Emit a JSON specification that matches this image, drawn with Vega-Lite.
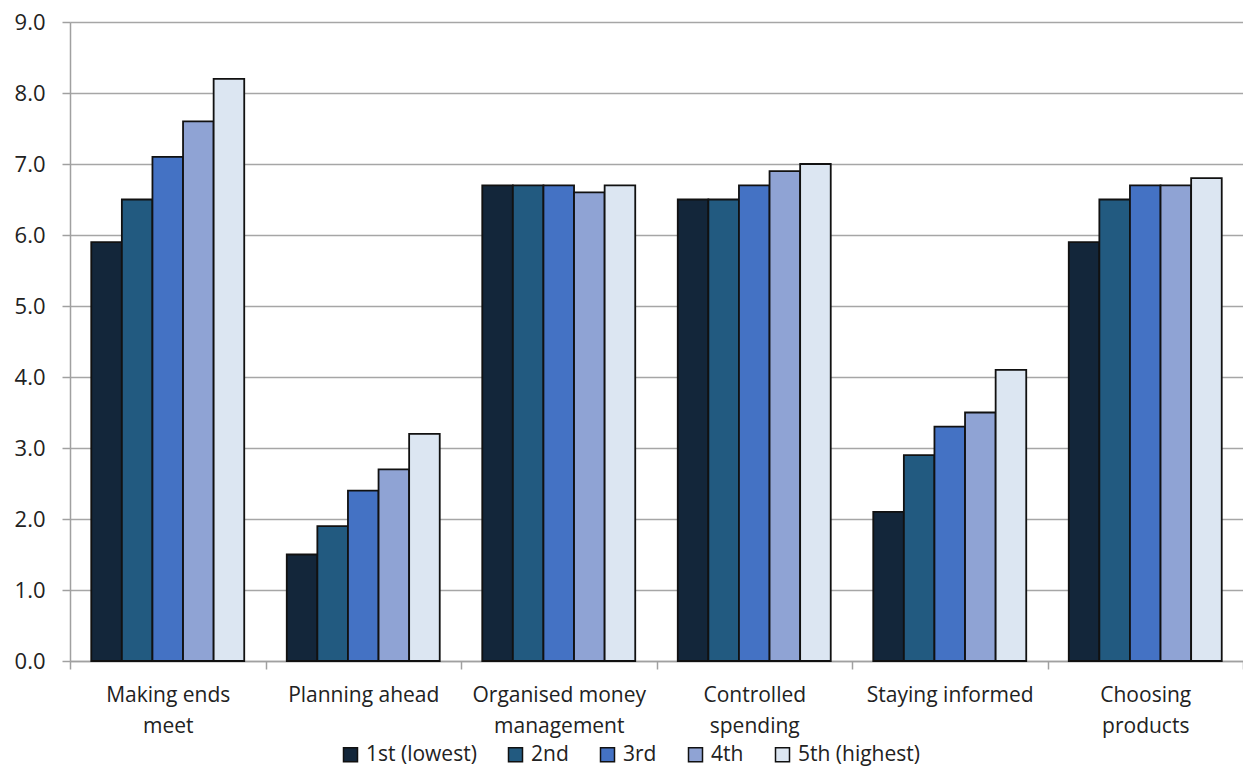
{
  "$schema": "https://vega.github.io/schema/vega-lite/v6.json",
  "width": 1173,
  "height": 639,
  "autosize": "none",
  "padding": {"left": 70, "top": 22, "right": 0, "bottom": 107},
  "background": "white",
  "config": {"view": {"stroke": null}, "font": "Open Sans"},
  "data": {
    "values": [
      {"category": "Making ends meet", "quintile": "1st (lowest)", "value": 5.9},
      {"category": "Making ends meet", "quintile": "2nd", "value": 6.5},
      {"category": "Making ends meet", "quintile": "3rd", "value": 7.1},
      {"category": "Making ends meet", "quintile": "4th", "value": 7.6},
      {"category": "Making ends meet", "quintile": "5th (highest)", "value": 8.2},
      {"category": "Planning ahead", "quintile": "1st (lowest)", "value": 1.5},
      {"category": "Planning ahead", "quintile": "2nd", "value": 1.9},
      {"category": "Planning ahead", "quintile": "3rd", "value": 2.4},
      {"category": "Planning ahead", "quintile": "4th", "value": 2.7},
      {"category": "Planning ahead", "quintile": "5th (highest)", "value": 3.2},
      {"category": "Organised money management", "quintile": "1st (lowest)", "value": 6.7},
      {"category": "Organised money management", "quintile": "2nd", "value": 6.7},
      {"category": "Organised money management", "quintile": "3rd", "value": 6.7},
      {"category": "Organised money management", "quintile": "4th", "value": 6.6},
      {"category": "Organised money management", "quintile": "5th (highest)", "value": 6.7},
      {"category": "Controlled spending", "quintile": "1st (lowest)", "value": 6.5},
      {"category": "Controlled spending", "quintile": "2nd", "value": 6.5},
      {"category": "Controlled spending", "quintile": "3rd", "value": 6.7},
      {"category": "Controlled spending", "quintile": "4th", "value": 6.9},
      {"category": "Controlled spending", "quintile": "5th (highest)", "value": 7.0},
      {"category": "Staying informed", "quintile": "1st (lowest)", "value": 2.1},
      {"category": "Staying informed", "quintile": "2nd", "value": 2.9},
      {"category": "Staying informed", "quintile": "3rd", "value": 3.3},
      {"category": "Staying informed", "quintile": "4th", "value": 3.5},
      {"category": "Staying informed", "quintile": "5th (highest)", "value": 4.1},
      {"category": "Choosing products", "quintile": "1st (lowest)", "value": 5.9},
      {"category": "Choosing products", "quintile": "2nd", "value": 6.5},
      {"category": "Choosing products", "quintile": "3rd", "value": 6.7},
      {"category": "Choosing products", "quintile": "4th", "value": 6.7},
      {"category": "Choosing products", "quintile": "5th (highest)", "value": 6.8}
    ]
  },
  "mark": {"type": "bar", "stroke": "#111111", "strokeWidth": 1.8},
  "encoding": {
    "x": {
      "field": "category",
      "type": "nominal",
      "sort": null,
      "scale": {"paddingInner": 0, "paddingOuter": 0},
      "axis": {
        "title": null,
        "labelAngle": 0,
        "tickBand": "extent",
        "domainColor": "#a0a0a0",
        "domainWidth": 1.5,
        "tickColor": "#a0a0a0",
        "tickWidth": 1.5,
        "tickSize": 8,
        "labelFontSize": 21,
        "labelColor": "#222222",
        "labelPadding": 15,
        "labelLineHeight": 31,
        "labelBaseline": "top",
        "labelLimit": 400,
        "labelExpr": "datum.value == 'Making ends meet' ? ['Making ends', 'meet'] : datum.value == 'Organised money management' ? ['Organised money', 'management'] : datum.value == 'Controlled spending' ? ['Controlled', 'spending'] : datum.value == 'Choosing products' ? ['Choosing', 'products'] : datum.value"
      }
    },
    "xOffset": {
      "field": "quintile",
      "type": "nominal",
      "sort": ["1st (lowest)", "2nd", "3rd", "4th", "5th (highest)"],
      "scale": {"paddingInner": 0, "paddingOuter": 0.695}
    },
    "y": {
      "field": "value",
      "type": "quantitative",
      "scale": {"domain": [0, 9], "nice": false},
      "axis": {
        "title": null,
        "values": [0, 1, 2, 3, 4, 5, 6, 7, 8, 9],
        "format": ".1f",
        "gridColor": "#a6a6a6",
        "gridWidth": 1.5,
        "domainColor": "#a0a0a0",
        "domainWidth": 1.5,
        "tickColor": "#a0a0a0",
        "tickWidth": 1.5,
        "tickSize": 8,
        "labelFontSize": 22,
        "labelPadding": 17,
        "labelColor": "#222222"
      }
    },
    "color": {
      "field": "quintile",
      "type": "nominal",
      "scale": {
        "domain": ["1st (lowest)", "2nd", "3rd", "4th", "5th (highest)"],
        "range": ["#13263a", "#225a80", "#4472c4", "#8fa3d4", "#dce6f2"]
      },
      "legend": {
        "title": null,
        "orient": "none",
        "legendX": 270,
        "legendY": 722,
        "direction": "horizontal",
        "symbolType": "square",
        "symbolSize": 196,
        "symbolStrokeColor": "#111111",
        "symbolStrokeWidth": 1.5,
        "labelFontSize": 21,
        "labelColor": "#222222",
        "columnPadding": 28,
        "labelOffset": 5
      }
    }
  }
}
